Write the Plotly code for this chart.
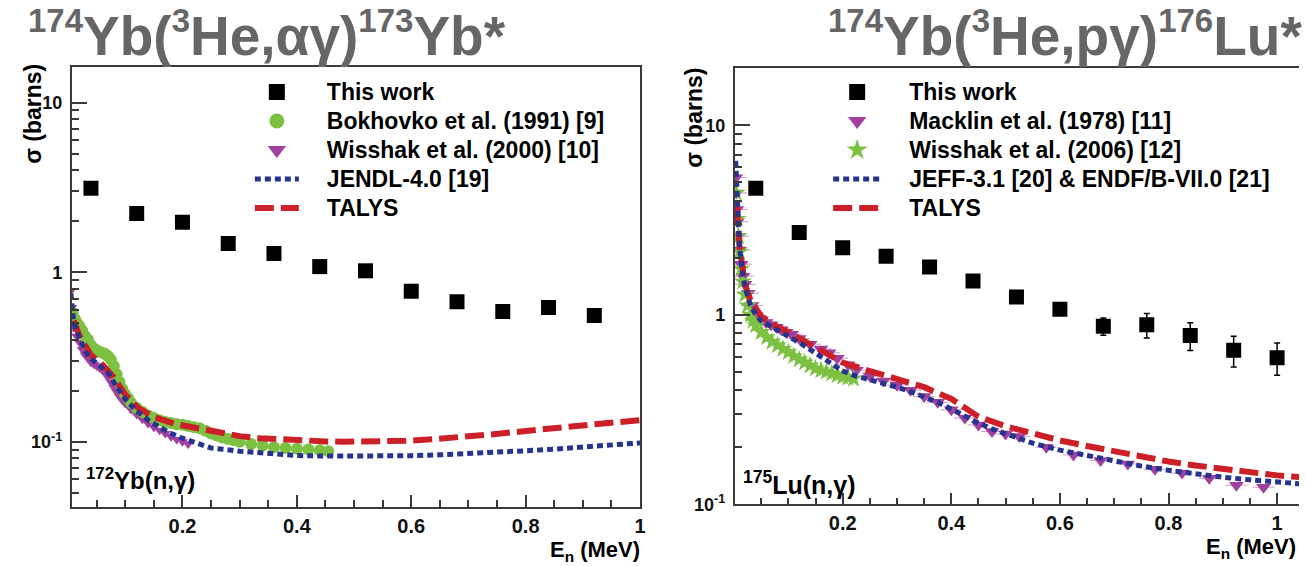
import plotly.graph_objects as go

W, H = 1305, 566
FONT = "Liberation Sans, Arial, Helvetica, sans-serif"

# ---------------- left panel: 172Yb(n,g) ----------------
tw_left_x = [0.04, 0.12, 0.20, 0.28, 0.36, 0.44, 0.52, 0.60, 0.68, 0.76, 0.84, 0.92]
tw_left_y = [3.13, 2.22, 1.97, 1.48, 1.29, 1.08, 1.02, 0.773, 0.67, 0.587, 0.619, 0.556]
tw_left_err = [0.10, 0.07, 0.06, 0.05, 0.045, 0.04, 0.04, 0.045, 0.035, 0.035, 0.03, 0.035]

bokh_x = [0.008, 0.012, 0.016, 0.020, 0.025, 0.030, 0.035, 0.040, 0.045, 0.050, 0.055, 0.060,
          0.065, 0.070, 0.075, 0.080, 0.085, 0.090, 0.095, 0.100, 0.105, 0.110, 0.120, 0.130,
          0.140, 0.150, 0.160, 0.170, 0.180, 0.190, 0.200, 0.210, 0.220, 0.230, 0.240, 0.250,
          0.260, 0.270, 0.280, 0.290, 0.300, 0.320, 0.340, 0.360, 0.380, 0.400, 0.420, 0.440, 0.455]
bokh_y = [0.58, 0.53, 0.50, 0.48, 0.45, 0.42, 0.40, 0.37, 0.355, 0.345, 0.34, 0.335,
          0.33, 0.32, 0.305, 0.28, 0.25, 0.225, 0.205, 0.19, 0.18, 0.17, 0.158, 0.15,
          0.143, 0.138, 0.134, 0.131, 0.129, 0.127, 0.126, 0.124, 0.122, 0.12, 0.116, 0.112,
          0.109, 0.106, 0.104, 0.102, 0.10, 0.097, 0.095, 0.093, 0.092, 0.091, 0.090, 0.089, 0.088]

wiss00_x = [0.005, 0.006, 0.008, 0.010, 0.015, 0.020, 0.025, 0.030, 0.035, 0.040, 0.045, 0.050,
            0.055, 0.060, 0.065, 0.070, 0.075, 0.080, 0.085, 0.090, 0.095, 0.100, 0.110, 0.120,
            0.130, 0.140, 0.150, 0.160, 0.170, 0.180, 0.190, 0.200, 0.210]
wiss00_y = [0.78, 0.62, 0.52, 0.47, 0.42, 0.385, 0.35, 0.325, 0.31, 0.295, 0.287, 0.28,
            0.272, 0.265, 0.253, 0.24, 0.225, 0.21, 0.197, 0.185, 0.176, 0.168, 0.155, 0.145,
            0.136, 0.128, 0.122, 0.117, 0.112, 0.107, 0.103, 0.100, 0.097]

jendl_x = [0.005, 0.008, 0.010, 0.020, 0.030, 0.040, 0.050, 0.060, 0.070, 0.080, 0.090, 0.100,
           0.120, 0.140, 0.160, 0.180, 0.200, 0.250, 0.300, 0.350, 0.400, 0.450, 0.500, 0.550,
           0.600, 0.650, 0.700, 0.750, 0.800, 0.850, 0.900, 0.950, 1.000]
jendl_y = [0.75, 0.55, 0.50, 0.41, 0.34, 0.31, 0.29, 0.275, 0.255, 0.225, 0.198, 0.178,
           0.152, 0.134, 0.122, 0.112, 0.105, 0.092, 0.088, 0.085, 0.083, 0.0823, 0.0822, 0.0823,
           0.0828, 0.0838, 0.085, 0.0865, 0.0885, 0.0905, 0.093, 0.0957, 0.0985]

talys_left_x = [0.010, 0.020, 0.040, 0.060, 0.080, 0.100, 0.123, 0.150, 0.189, 0.225, 0.262, 0.300,
                0.335, 0.370, 0.408, 0.450, 0.481, 0.520, 0.555, 0.590, 0.628, 0.665, 0.701, 0.740,
                0.775, 0.810, 0.848, 0.885, 0.921, 0.960, 1.000]
talys_left_y = [0.52, 0.42, 0.325, 0.285, 0.24, 0.19, 0.158, 0.14, 0.127, 0.12, 0.1135, 0.108,
                0.105, 0.103, 0.1017, 0.1005, 0.100, 0.0998, 0.100, 0.1013, 0.103, 0.105, 0.1077, 0.1105,
                0.1135, 0.117, 0.121, 0.124, 0.127, 0.1305, 0.134]

# ---------------- right panel: 175Lu(n,g) ----------------
tw_right_x = [0.04, 0.12, 0.20, 0.28, 0.36, 0.44, 0.52, 0.60, 0.68, 0.76, 0.84, 0.92, 1.00]
tw_right_y = [4.66, 2.72, 2.26, 2.04, 1.79, 1.51, 1.24, 1.07, 0.871, 0.885, 0.778, 0.65, 0.594]
tw_right_err = [0.15, 0.08, 0.07, 0.07, 0.06, 0.06, 0.06, 0.065, 0.09, 0.13, 0.13, 0.12, 0.115]

mack_x = [0.003, 0.004, 0.005, 0.006, 0.008, 0.010, 0.013, 0.0165, 0.020, 0.026, 0.033, 0.041,
          0.050, 0.059, 0.068, 0.078, 0.087, 0.096, 0.106, 0.120, 0.140, 0.160, 0.175, 0.190,
          0.210, 0.225, 0.250, 0.275, 0.300, 0.325, 0.350, 0.375, 0.400, 0.425, 0.450, 0.475,
          0.500, 0.525, 0.575, 0.625, 0.675, 0.725, 0.775, 0.825, 0.875, 0.925, 0.975]
mack_y = [5.3, 4.4, 3.6, 3.1, 2.6, 2.2, 1.85, 1.6, 1.45, 1.3, 1.12, 0.99,
          0.94, 0.91, 0.885, 0.86, 0.835, 0.81, 0.79, 0.75, 0.70, 0.66, 0.63, 0.59,
          0.545, 0.51, 0.475, 0.447, 0.425, 0.40, 0.37, 0.345, 0.315, 0.285, 0.262, 0.242,
          0.235, 0.228, 0.20, 0.182, 0.17, 0.163, 0.153, 0.146, 0.137, 0.126, 0.123]

wiss06_x = [0.004, 0.006, 0.008, 0.010, 0.013, 0.016, 0.020, 0.025, 0.030, 0.035, 0.040, 0.050,
            0.060, 0.070, 0.080, 0.090, 0.100, 0.110, 0.120, 0.130, 0.140, 0.150, 0.160, 0.170,
            0.180, 0.190, 0.200, 0.210, 0.220]
wiss06_y = [4.4, 3.2, 2.6, 2.15, 1.75, 1.5, 1.28, 1.12, 1.0, 0.93, 0.88, 0.81,
            0.76, 0.72, 0.69, 0.66, 0.635, 0.605, 0.58, 0.56, 0.54, 0.52, 0.51, 0.50,
            0.49, 0.48, 0.47, 0.465, 0.46]

jeff_x = [0.003, 0.005, 0.007, 0.010, 0.015, 0.020, 0.030, 0.040, 0.050, 0.075, 0.100, 0.125,
          0.150, 0.175, 0.200, 0.225, 0.250, 0.275, 0.300, 0.325, 0.350, 0.375, 0.400, 0.425,
          0.450, 0.475, 0.500, 0.550, 0.600, 0.650, 0.700, 0.750, 0.800, 0.850, 0.900, 0.950,
          1.000, 1.045]
jeff_y = [6.5, 4.3, 3.2, 2.3, 1.7, 1.4, 1.13, 1.0, 0.93, 0.84, 0.77, 0.70,
          0.625, 0.56, 0.505, 0.475, 0.455, 0.435, 0.415, 0.393, 0.37, 0.345, 0.318, 0.29,
          0.268, 0.25, 0.235, 0.21, 0.193, 0.18, 0.168, 0.159, 0.151, 0.144, 0.139, 0.1345,
          0.131, 0.128]

talys_right_x = [0.005, 0.010, 0.020, 0.030, 0.050, 0.075, 0.100, 0.125, 0.150, 0.175, 0.200, 0.250,
                 0.300, 0.350, 0.400, 0.450, 0.500, 0.550, 0.600, 0.650, 0.700, 0.750, 0.800, 0.850,
                 0.900, 0.950, 1.000, 1.045]
talys_right_y = [3.8, 2.3, 1.45, 1.2, 0.98, 0.88, 0.81, 0.74, 0.675, 0.61, 0.56, 0.505,
                 0.46, 0.415, 0.36, 0.29, 0.258, 0.236, 0.217, 0.203, 0.19, 0.178, 0.168, 0.16,
                 0.153, 0.147, 0.142, 0.139]

x_ticks = [0.2, 0.4, 0.6, 0.8, 1.0]
x_ticktext = ["0.2", "0.4", "0.6", "0.8", "1"]
x_minor = [0.05, 0.1, 0.15, 0.25, 0.3, 0.35, 0.45, 0.5, 0.55, 0.65, 0.7, 0.75, 0.85, 0.9, 0.95]
y_ticks = [0.1, 1, 10]
y_ticktext = ["10<sup>-1</sup>", "1", "10"]
y_minor = [0.05, 0.06, 0.07, 0.08, 0.09, 0.2, 0.3, 0.4, 0.5, 0.6, 0.7, 0.8, 0.9,
           2, 3, 4, 5, 6, 7, 8, 9, 20]

legend_left = ["This work", "Bokhovko et al. (1991) [9]", "Wisshak et al. (2000) [10]",
               "JENDL-4.0 [19]", "TALYS"]
legend_right = ["This work", "Macklin et al. (1978) [11]", "Wisshak et al. (2006) [12]",
                "JEFF-3.1 [20] &amp; ENDF/B-VII.0 [21]", "TALYS"]

C_BLUE = "#26338f"
C_RED = "#cc1f27"
C_GREEN = "#7dc142"
C_PURPLE = "#a0409f"

STY_SQ = dict(symbol="square", color="black", line=dict(width=0))
STY_CI = dict(symbol="circle", color=C_GREEN, line=dict(width=0))
STY_TR = dict(symbol="triangle-down", color=C_PURPLE, line=dict(width=0))
STY_ST = dict(symbol="star", color=C_GREEN, line=dict(width=0))
LINE_DOT = dict(color=C_BLUE, width=5, dash="6px,4px")
LINE_DASH = dict(color=C_RED, width=6, dash="19px,7px")


def nm(s, size=23):
    return "<span style='font-size:%dpx'>\u2003%s</span>" % (size, s)


fig = go.Figure()

# ---- left panel data (drawing order) ----
fig.add_trace(go.Scatter(x=wiss00_x, y=wiss00_y, mode="markers", showlegend=False,
                         marker=dict(size=10, **STY_TR), xaxis="x", yaxis="y"))
fig.add_trace(go.Scatter(x=bokh_x, y=bokh_y, mode="markers", showlegend=False,
                         marker=dict(size=12, **STY_CI), xaxis="x", yaxis="y"))
fig.add_trace(go.Scatter(x=talys_left_x, y=talys_left_y, mode="lines", showlegend=False,
                         line=LINE_DASH, xaxis="x", yaxis="y"))
fig.add_trace(go.Scatter(x=jendl_x, y=jendl_y, mode="lines", showlegend=False,
                         line=LINE_DOT, xaxis="x", yaxis="y"))
fig.add_trace(go.Scatter(x=tw_left_x, y=tw_left_y, mode="markers", showlegend=False,
                         marker=dict(size=15, **STY_SQ),
                         error_y=dict(type="data", array=tw_left_err, color="black", thickness=1.5, width=3),
                         xaxis="x", yaxis="y"))

# ---- right panel data ----
fig.add_trace(go.Scatter(x=mack_x, y=mack_y, mode="markers", showlegend=False,
                         marker=dict(size=13, **STY_TR),
                         error_x=dict(type="constant", value=0.02, color="#c99bcb", thickness=1, width=0),
                         xaxis="x2", yaxis="y2"))
fig.add_trace(go.Scatter(x=wiss06_x, y=wiss06_y, mode="markers", showlegend=False,
                         marker=dict(size=14, **STY_ST), xaxis="x2", yaxis="y2"))
fig.add_trace(go.Scatter(x=talys_right_x, y=talys_right_y, mode="lines", showlegend=False,
                         line=LINE_DASH, xaxis="x2", yaxis="y2"))
fig.add_trace(go.Scatter(x=jeff_x, y=jeff_y, mode="lines", showlegend=False,
                         line=LINE_DOT, xaxis="x2", yaxis="y2"))
fig.add_trace(go.Scatter(x=tw_right_x, y=tw_right_y, mode="markers", showlegend=False,
                         marker=dict(size=15, **STY_SQ),
                         error_y=dict(type="data", array=tw_right_err, color="black", thickness=1.5, width=3),
                         xaxis="x2", yaxis="y2"))

# ---- legend entries (legend-only proxies with legend-sized symbols) ----
left_styles = [("markers", dict(size=16, **STY_SQ)), ("markers", dict(size=15, **STY_CI)),
               ("markers", dict(size=16, **STY_TR)), ("lines", LINE_DOT), ("lines", LINE_DASH)]
right_styles = [("markers", dict(size=16, **STY_SQ)), ("markers", dict(size=16, **STY_TR)),
                ("markers", dict(size=16, **STY_ST)), ("lines", LINE_DOT), ("lines", LINE_DASH)]
for lg, names, styles, xa, ya in [("legend", legend_left, left_styles, "x", "y"),
                                  ("legend2", legend_right, right_styles, "x2", "y2")]:
    for name, (mode, sty) in zip(names, styles):
        kw = dict(marker=sty) if mode == "markers" else dict(line=sty)
        fig.add_trace(go.Scatter(x=[None], y=[None], mode=mode, name=nm(name), legend=lg,
                                 xaxis=xa, yaxis=ya, showlegend=True, **kw))


def px_x(p):
    return p / W


def px_y(p):
    return 1 - p / H


axis_common = dict(showgrid=False, zeroline=False, showline=True, linecolor="#3a3a3a", linewidth=1.5,
                   ticks="inside", tickcolor="#3a3a3a", tickwidth=1.5)

xfont = dict(family=FONT, size=20, color="#111", weight="bold")
yfont = dict(family=FONT, size=18, color="#111", weight="bold")

fig.update_layout(
    width=W, height=H,
    margin=dict(l=0, r=0, t=0, b=0),
    paper_bgcolor="white", plot_bgcolor="white",
    font=dict(family=FONT, color="black"),
    xaxis=dict(domain=[px_x(72), px_x(643)], range=[0.0063, 1.0], anchor="y",
               tickvals=x_ticks, ticktext=x_ticktext, ticklen=12, mirror=True,
               minor=dict(tickvals=x_minor, ticks="inside", ticklen=7, tickwidth=1.5, tickcolor="#3a3a3a"),
               tickfont=xfont, **axis_common),
    yaxis=dict(domain=[px_y(516), px_y(68)], type="log", range=[-1.384, 1.212], anchor="x",
               tickvals=y_ticks, ticktext=y_ticktext, ticklen=16, mirror=True,
               minor=dict(tickvals=y_minor, ticks="inside", ticklen=8, tickwidth=1.5, tickcolor="#3a3a3a"),
               tickfont=yfont, ticklabelstandoff=4, **axis_common),
    xaxis2=dict(domain=[px_x(738), 1.0], range=[0.001, 1.0403], anchor="y2",
                tickvals=x_ticks, ticktext=x_ticktext, ticklen=11, mirror=True,
                minor=dict(tickvals=x_minor, ticks="inside", ticklen=6, tickwidth=1.5, tickcolor="#3a3a3a"),
                tickfont=xfont, **axis_common),
    yaxis2=dict(domain=[px_y(513.3), px_y(69.3)], type="log", range=[-1.0, 1.3026], anchor="x2",
                tickvals=y_ticks, ticktext=y_ticktext, ticklen=16, mirror=False,
                minor=dict(tickvals=y_minor, ticks="inside", ticklen=8, tickwidth=1.5, tickcolor="#3a3a3a"),
                tickfont=yfont, ticklabelstandoff=4, **axis_common),
    legend=dict(x=px_x(251), xanchor="left", y=px_y(73.8), yanchor="top",
                font=dict(family=FONT, size=20, color="black", weight="bold"),
                itemwidth=44, bgcolor="rgba(0,0,0,0)", borderwidth=0, tracegroupgap=0,
                traceorder="normal", itemclick=False, itemdoubleclick=False),
    legend2=dict(x=px_x(832), xanchor="left", y=px_y(73.8), yanchor="top",
                 font=dict(family=FONT, size=20, color="black", weight="bold"),
                 itemwidth=48, bgcolor="rgba(0,0,0,0)", borderwidth=0, tracegroupgap=0,
                 traceorder="normal", itemclick=False, itemdoubleclick=False),
    showlegend=True,
)

title_font = dict(family=FONT, size=55, color="#666666", weight="bold")
sup_t = "<sup><span style='font-size:33px'>%s</span></sup>"
fig.add_annotation(text=(sup_t % "174") + "Yb(" + (sup_t % "3") + "He,αγ)" + (sup_t % "173") + "Yb*",
                   x=px_x(26), y=1.0, xref="paper", yref="paper", xanchor="left", yanchor="top",
                   showarrow=False, font=title_font)
fig.add_annotation(text=(sup_t % "174") + "Yb(" + (sup_t % "3") + "He,pγ)" + (sup_t % "176") + "Lu*",
                   x=px_x(830), y=1.0, xref="paper", yref="paper", xanchor="left", yanchor="top",
                   showarrow=False, font=title_font)

lab_font = dict(family=FONT, size=23, color="black", weight="bold")
fig.add_annotation(text="σ (barns)", textangle=-90, x=px_x(33), y=px_y(116), xref="paper", yref="paper",
                   xanchor="center", yanchor="middle", showarrow=False, font=lab_font)
fig.add_annotation(text="σ (barns)", textangle=-90, x=px_x(697), y=px_y(120), xref="paper", yref="paper",
                   xanchor="center", yanchor="middle", showarrow=False, font=lab_font)

en_font = dict(family=FONT, size=22, color="black", weight="bold")
fig.add_annotation(text="E<sub>n</sub> (MeV)", x=px_x(644), y=0.0, xref="paper", yref="paper",
                   xanchor="right", yanchor="bottom", yshift=-10, borderpad=0, showarrow=False, font=en_font)
fig.add_annotation(text="E<sub>n</sub> (MeV)", x=px_x(1303), y=0.0, xref="paper", yref="paper",
                   xanchor="right", yanchor="bottom", yshift=-7, borderpad=0, showarrow=False, font=en_font)

reac_font = dict(family=FONT, size=24, color="black", weight="bold")
fig.add_annotation(text="<sup>172</sup>Yb(n,γ)", x=px_x(84), y=px_y(488), xref="paper", yref="paper",
                   xanchor="left", yanchor="middle", showarrow=False, font=reac_font)
fig.add_annotation(text="<sup>175</sup>Lu(n,γ)", x=px_x(744), y=px_y(492), xref="paper", yref="paper",
                   xanchor="left", yanchor="middle", showarrow=False, font=dict(reac_font, size=25))

fig.write_html("out.html")
